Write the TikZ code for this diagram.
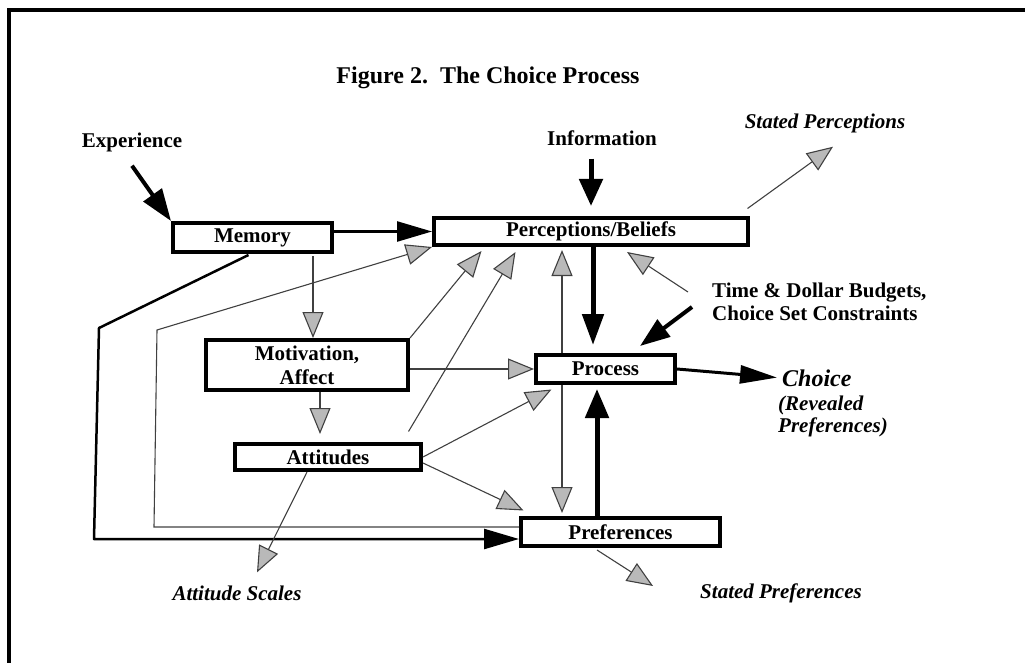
\documentclass[tikz,border=0pt]{standalone}
\usepackage{fontspec}
\setmainfont{Liberation Serif}
\usetikzlibrary{arrows.meta,calc}

\begin{document}
\begin{tikzpicture}[x=1pt,y=-1pt,
  box/.style={draw, line width=4pt, fill=white, inner sep=0pt, align=center,
    font=\fontsize{21}{24}\selectfont\bfseries},
  lbl/.style={inner sep=0pt, font=\fontsize{21}{23}\selectfont\bfseries},
  ilbl/.style={inner sep=0pt, font=\fontsize{21}{22}\selectfont\bfseries\itshape},
  thinarr/.style={draw=black!75, line width=1.1pt,
    -{Triangle[length=26pt,width=21pt,fill=gray!55]}},
  boldarr/.style={draw=black, line width=#1},
  boldarr/.default=5pt
]
\useasboundingbox (0,0) rectangle (1025,663);

% frame
\draw[line width=4pt] (9,680) -- (9,10) -- (1040,10);

% labels
\node[lbl, font=\fontsize{24}{26}\selectfont\bfseries] (title) at (488,78) {Figure 2.\ \ The Choice Process};
\node[lbl] (exp) at (132,142) {Experience};
\node[lbl] (info) at (602,138) {Information};
\node[ilbl] (sperc) at (825,123) {Stated Perceptions};
\node[lbl, anchor=west, align=left] (bud) at (712,301.5) {Time \& Dollar Budgets,\\Choice Set Constraints};
\node[ilbl, font=\fontsize{24}{26}\selectfont\bfseries\itshape, anchor=west] (choice) at (782,378) {Choice};
\node[ilbl, anchor=west, align=left] (rev) at (778,416) {(Revealed\\Preferences)};
\node[ilbl] (ascale) at (237,593) {Attitude Scales};
\node[ilbl] (spref) at (781,593) {Stated Preferences};

% boxes
\node[box, minimum width=159pt, minimum height=29pt] (mem) at (252.5,237.5) {Memory};
\node[box, minimum width=314pt, minimum height=27pt] (perc) at (591,231.5) {Perceptions/Beliefs};
\node[box, minimum width=202pt, minimum height=50pt] (mot) at (307,365) {Motivation,\\Affect};
\node[box, minimum width=186pt, minimum height=26pt] (att) at (328,457) {Attitudes};
\node[box, minimum width=139pt, minimum height=28pt] (proc) at (605.5,369) {Process};
\node[box, minimum width=199pt, minimum height=28pt] (pref) at (620.5,532) {Preferences};

% bend points
\coordinate (bendA) at (99,328);
\coordinate (bendB) at (94,539);
\coordinate (bendC) at (154,527);
\coordinate (bendD) at (157,330);

% heavy black connectors
\draw[boldarr=4pt, -{Triangle[length=32pt,width=22pt]}]
  ($(exp.south)+(0,14)$) -- (mem.north west);
\draw[boldarr=5pt, -{Triangle[length=27pt,width=23pt]}, shorten <=13pt, shorten >=10pt]
  (info.south -| perc.north) -- (perc.north);
\draw[boldarr=2.5pt, -{Triangle[length=35pt,width=20pt]}]
  (mem.east |- perc.west) -- (perc.west);
\draw[boldarr=5pt, -{Triangle[length=31pt,width=21pt]}, shorten >=8pt]
  ($(perc.south)+(2,0)$) coordinate (p1) -- (p1 |- proc.north);
\draw[boldarr=5pt, -{Triangle[length=29pt,width=23pt]}, shorten >=4pt]
  ($(pref.north)+(-23.5,0)$) coordinate (p4) -- (p4 |- proc.south);
\draw[boldarr=3pt, -{Triangle[length=37pt,width=18pt]}, shorten >=5pt]
  (proc.east) -- (choice.west);
\draw[boldarr=4pt, -{Triangle[length=30pt,width=21pt]}]
  ($(bud.west)+(-20,5.5)$) -- ($(proc.north)+(34.5,-7)$);
\draw[boldarr=2.5pt, line join=round, -{Triangle[length=35pt,width=20pt]}]
  ($(mem.south)+(-4,1)$) -- (bendA) -- (bendB) -- ($(pref.west)+(0,7)$);

% thin connectors with grey heads
\draw[thinarr, shorten <=2pt]
  ($(mem.south east)+(-21,0)$) coordinate (m1) -- (m1 |- mot.north);
\draw[thinarr, shorten >=8pt]
  ($(mot.south)+(13,0)$) coordinate (m2) -- (m2 |- att.north);
\draw[thinarr]
  ($(pref.west)+(0,-5)$) -- (bendC) -- (bendD) -- (perc.south west);
\draw[thinarr, shorten >=3pt]
  ($(proc.north west)+(28,0)$) coordinate (p2) -- (p2 |- perc.south);
\draw[thinarr, shorten >=3pt]
  ($(proc.south west)+(28,0)$) coordinate (p3) -- (p3 |- pref.north);
\draw[thinarr]
  ($(bud.west)+(-24,-9.5)$) -- ($(perc.south east)+(-123,5)$);
\draw[thinarr]
  ($(perc.north east)+(-2.5,-7.5)$) -- ($(sperc.south)+(8,14)$);
\draw[thinarr]
  (mot.east |- proc.west) -- (proc.west);
\draw[thinarr]
  (mot.north east) -- ($(perc.south west)+(49.5,4)$);
\draw[thinarr]
  ($(att.north east)+(-14.5,-10.5)$) -- ($(perc.south west)+(83.5,5)$);
\draw[thinarr]
  (att.east) -- ($(proc.south west)+(17.5,4.5)$);
\draw[thinarr]
  ($(att.east)+(0,6)$) -- ($(pref.north west)+(4.5,-5.5)$);
\draw[thinarr]
  ($(att.south)+(-21,0)$) -- ($(ascale.north)+(20,-13)$);
\draw[thinarr]
  ($(pref.south)+(-23.5,2)$) -- ($(spref.west)+(-47,-7)$);
\end{tikzpicture}
\end{document}
